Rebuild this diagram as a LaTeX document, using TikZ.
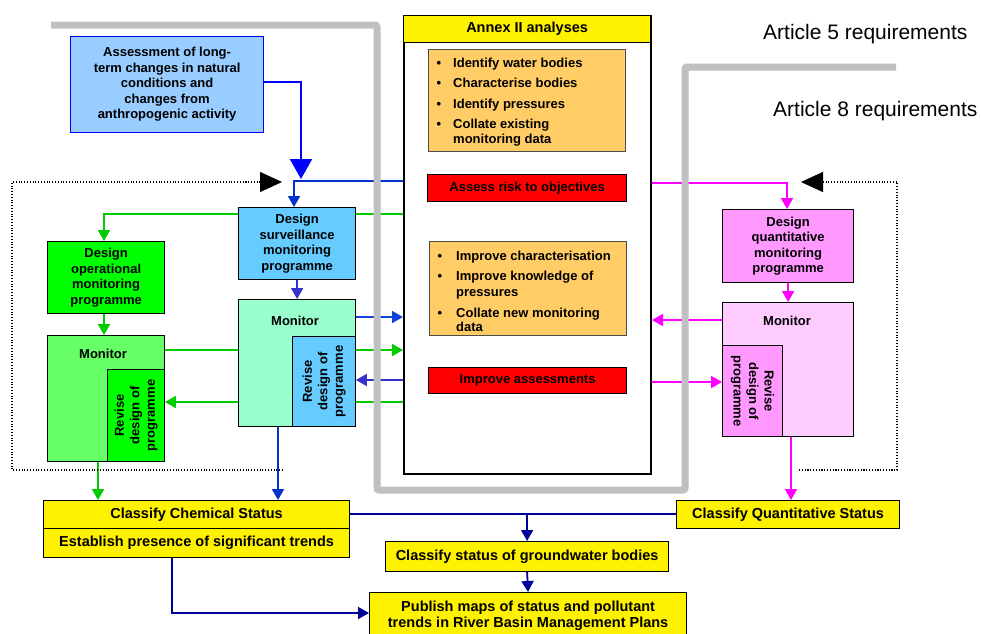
\documentclass[tikz,border=0pt]{standalone}
\usepackage{fontspec}
\setmainfont{Liberation Sans}
\usetikzlibrary{arrows.meta,backgrounds}

\definecolor{assessfill}{HTML}{99CCFF}
\definecolor{assessblue}{HTML}{0000FF}
\definecolor{survfill}{HTML}{66CCFF}
\definecolor{mintfill}{HTML}{99FFCC}
\definecolor{opfill}{HTML}{00FF00}
\definecolor{monleft}{HTML}{66FF66}
\definecolor{quantfill}{HTML}{FF99FF}
\definecolor{monright}{HTML}{FFCCFF}
\definecolor{orangefill}{HTML}{FFCC66}
\definecolor{grn}{HTML}{00CC00}
\definecolor{mag}{HTML}{FF00FF}
\definecolor{blueA}{HTML}{0000FF}
\definecolor{blueB}{HTML}{0033CC}
\definecolor{blueC}{HTML}{1144DD}
\definecolor{blueD}{HTML}{3333CC}
\definecolor{navy}{HTML}{000099}
\definecolor{grayL}{HTML}{C0C0C0}

\newcommand\bxfont{\bfseries\fontsize{13}{15.5}\selectfont}
\newcommand\yfont{\bfseries\fontsize{14.5}{16.5}\selectfont}

\tikzset{
  bx/.style={draw=black, line width=1.2pt, inner sep=0pt, anchor=north west,
    align=center, font=\bxfont},
  ybox/.style={bx, fill=yellow, font=\yfont},
  obox/.style={bx, draw=black!70, line width=0.8pt, fill=orangefill},
  rbox/.style={bx, fill=red},
  item/.style={anchor=mid west, inner sep=0pt, font=\bxfont},
  lbl/.style={inner sep=0pt, font=\bxfont, align=center},
  conn/.style={line width=1.8pt},
  tip/.style={-{Triangle[length=11pt,width=12pt]}},
  bigtip/.style={-{Triangle[length=20pt,width=22pt]}},
  bracket/.style={line width=1.1pt, dash pattern=on 1.1pt off 1.7pt,
    -{Triangle[length=22pt,width=20pt]}},
}

\begin{document}
\begin{tikzpicture}[x=1pt,y=-1pt]
\useasboundingbox (0,0) rectangle (981,633);

% helper levels for connectors
\foreach \yy in {82,181,183,214,317,320,350,380,382,402,514,613}
  \coordinate (h\yy) at (0,\yy);
\foreach \xx in {98,104,172,278,294,787,791}
  \coordinate (v\xx) at (\xx,0);
\coordinate (atip) at (301,179);

% ---------- left column ----------
\node[bx, draw=assessblue, fill=assessfill, minimum width=193pt, minimum height=96pt]
  (assess) at (70,36) {Assessment of long-\\term changes in natural\\conditions and\\changes from\\anthropogenic activity};

\node[bx, fill=survfill, minimum width=117pt, minimum height=72pt]
  (dsurv) at (238,207) {Design\\surveillance\\monitoring\\programme};
\node[bx, fill=opfill, minimum width=117pt, minimum height=72pt]
  (dop) at (47,241) {Design\\operational\\monitoring\\programme};

\node[bx, fill=monleft, minimum width=117pt, minimum height=126pt] (mleft) at (47,335) {};
\node[bx, fill=opfill, line width=0.9pt, minimum width=57pt, minimum height=92pt] (rleft) at (107,369) {};
\node[lbl] (mleftt) at (103,354) {Monitor};
\node[lbl, rotate=90] (rleftt) at (rleft.center) {Revise\\design of\\programme};

\node[bx, fill=mintfill, minimum width=117pt, minimum height=127pt] (mmid) at (238,299) {};
\node[bx, fill=survfill, line width=0.9pt, minimum width=63pt, minimum height=90pt] (rmid) at (292,336) {};
\node[lbl] (mmidt) at (295,321) {Monitor};
\node[lbl, rotate=90] (rmidt) at (rmid.center) {Revise\\design of\\programme};

% ---------- Annex II ----------
\node[bx, line width=2pt, fill=white, minimum width=247pt, minimum height=458pt] (annex) at (403,15) {};
\node[bx, fill=yellow, font=\yfont, minimum width=247pt, minimum height=27pt] (annexh) at (403,15) {Annex II analyses};

\node[obox, minimum width=197pt, minimum height=102pt] (o1) at (428,49) {};
\node[item] (i1) at (453,65) {\llap{\textbullet\hspace{12pt}}Identify water bodies};
\node[item] (i2) at (453,85) {\llap{\textbullet\hspace{12pt}}Characterise bodies};
\node[item] (i3) at (453,106) {\llap{\textbullet\hspace{12pt}}Identify pressures};
\node[item] (i4) at (453,126) {\llap{\textbullet\hspace{12pt}}Collate existing};
\node[item] (i4b) at (453,141) {monitoring data};
\node[rbox, minimum width=199pt, minimum height=27pt] (red1) at (427,174) {Assess risk to objectives};

\node[obox, minimum width=197pt, minimum height=94pt] (o2) at (429,241) {};
\node[item] (j1) at (456,258) {\llap{\textbullet\hspace{14pt}}Improve characterisation};
\node[item] (j2) at (456,278) {\llap{\textbullet\hspace{14pt}}Improve knowledge of};
\node[item] (j2b) at (456,294) {pressures};
\node[item] (j3) at (456,315) {\llap{\textbullet\hspace{14pt}}Collate new monitoring};
\node[item] (j3b) at (456,329) {data};
\node[rbox, minimum width=198pt, minimum height=26pt] (red2) at (428,367) {Improve assessments};

% ---------- right column ----------
\node[bx, fill=quantfill, minimum width=131pt, minimum height=73pt]
  (dquant) at (722,209) {Design\\quantitative\\monitoring\\programme};
\node[bx, fill=monright, minimum width=131pt, minimum height=134pt] (mright) at (722,302) {};
\node[bx, fill=quantfill, line width=0.9pt, minimum width=60pt, minimum height=91pt] (rright) at (722,345) {};
\node[lbl] (mrightt) at (787,321) {Monitor};
\node[lbl, rotate=-90] (rrightt) at (rright.center) {Revise\\design of\\programme};

% ---------- status boxes ----------
\node[ybox, minimum width=306pt, minimum height=28pt] (chem) at (43,500) {Classify Chemical Status};
\node[ybox, minimum width=306pt, minimum height=29pt] (trends) at (43,528) {Establish presence of significant trends};
\node[ybox, minimum width=223pt, minimum height=28pt] (quant) at (676,500) {Classify Quantitative Status};
\node[ybox, minimum width=283pt, minimum height=30pt] (gw) at (385,541) {Classify status of groundwater bodies};
\node[ybox, minimum width=317pt, minimum height=46pt] (pub) at (369,592) {Publish maps of status and pollutant\\trends in River Basin Management Plans};

% ---------- headings ----------
\node[anchor=base west, inner sep=0pt, font=\fontsize{21}{24}\selectfont] (art5) at (763,39) {Article 5 requirements};
\node[anchor=base west, inner sep=0pt, font=\fontsize{21}{24}\selectfont] (art8) at (773,116) {Article 8 requirements};

\begin{pgfonlayer}{background}
  \fill[white] (0,0) rectangle (981,633);

  % connectors
  \draw[blueA, line width=2.2pt, bigtip] (assess.east |- h82) -| (atip);
  \draw[blueB, conn, tip] (annex.west |- h181) -| (dsurv.north -| v294);
  \draw[grn, conn, tip] (annex.west |- h214) -| (dop.north -| v104);
  \draw[grn, conn, tip] (dop.south -| v104) -- (mleft.north -| v104);
  \draw[blueD, conn, tip] (dsurv.south) -- (mmid.north);
  \draw[mag, conn, tip] (dquant.south) -- (mright.north);

  \draw[grn, conn, tip] (mleft.east |- h350) -- (annex.west |- h350);
  \draw[blueC, conn, tip] (mmid.east |- h317) -- (annex.west |- h317);
  \draw[blueD, conn, tip] (annex.west |- h380) -- (rmid.east |- h380);
  \draw[grn, conn, tip] (annex.west |- h402) -- (rleft.east |- h402);

  \draw[mag, conn, tip] (annex.east |- h183) -| (dquant.north -| v787);
  \draw[mag, conn, tip] (mright.west |- h320) -- (annex.east |- h320);
  \draw[mag, conn, tip] (annex.east |- h382) -- (rright.west |- h382);

  \draw[grn, conn, tip] (mleft.south -| v98) -- (chem.north -| v98);
  \draw[blueB, conn, tip] (mmid.south -| v278) -- (chem.north -| v278);
  \draw[mag, conn, tip] (mright.south -| v791) -- (quant.north -| v791);

  \draw[navy, conn] (chem.east |- h514) -- (quant.west |- h514);
  \draw[navy, conn, tip] (gw.north |- h514) -- (gw.north);
  \draw[navy, conn, tip] (gw.south) -- (pub.north);
  \draw[navy, conn, tip] (trends.south -| v172) |- (pub.west |- h613);

  \draw[black, line width=1.3pt, -{Triangle[length=9pt,width=9pt]}] (o1.south) -- (red1.north);
  \draw[black, line width=1.3pt, -{Triangle[length=9pt,width=9pt]}] (o2.south) -- (red2.north);

  % requirement boundaries
  \draw[grayL, line width=7pt, rounded corners=2pt]
    (51,25) -- (377,25) -- (377,490) -- (685,490) -- (685,67) -- (896,67);

  % feedback brackets
  \draw[bracket] (283,470) -- (12,470) -- (12,182) -- (282,182);
  \draw[bracket] (799,470) -- (897,470) -- (897,182) -- (801,182);
\end{pgfonlayer}
\end{tikzpicture}
\end{document}
